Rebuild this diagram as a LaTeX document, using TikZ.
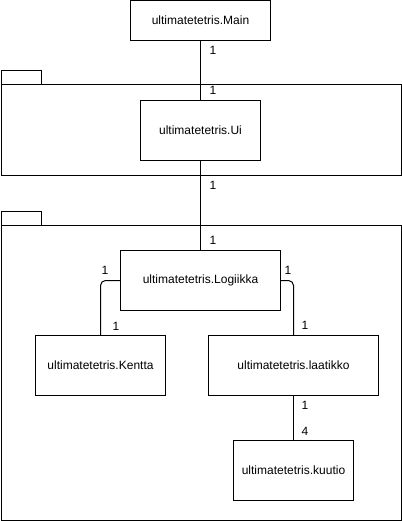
\documentclass[tikz,border=0pt]{standalone}
\usepackage{fontspec}
\setmainfont{Liberation Sans}
\begin{document}
\begin{tikzpicture}[x=1pt,y=-1pt,
  cls/.style={draw,line width=1pt,fill=white,inner sep=0pt,font=\fontsize{12}{14}\selectfont},
  pkg/.style={draw,line width=1pt,inner sep=0pt},
  conn/.style={line width=1pt},
  mult/.style={font=\fontsize{12}{14}\selectfont,inner sep=0pt}]
\useasboundingbox (0,0) rectangle (401,521);
% packages
\node[pkg,minimum width=40,minimum height=14,anchor=north west] (tab1) at (0.5,70.5) {};
\node[pkg,minimum width=400,minimum height=91,anchor=north west] (pkg1) at (0.5,84.5) {};
\node[pkg,minimum width=40,minimum height=14,anchor=north west] (tab2) at (0.5,210.5) {};
\node[pkg,minimum width=400,minimum height=295,anchor=north west] (pkg2) at (0.5,224.5) {};
% classes
\node[cls,minimum width=140,minimum height=40] (main) at (200.5,20.5) {ultimatetetris.Main};
\node[cls,minimum width=120,minimum height=60] (ui) at (200.5,130.5) {ultimatetetris.Ui};
\node[cls,minimum width=160,minimum height=60] (log) at (200.5,280.5) {ultimatetetris.Logiikka};
\node[cls,minimum width=130,minimum height=60] (ken) at (100.5,365.5) {ultimatetetris.Kentta};
\node[cls,minimum width=170,minimum height=60] (laa) at (293.5,365.5) {ultimatetetris.laatikko};
\node[cls,minimum width=120,minimum height=60] (kuu) at (293.5,470.5) {ultimatetetris.kuutio};
% connectors
\draw[conn] (main.south) -- (ui.north);
\draw[conn] (ui.south) -- (log.north);
\draw[conn,rounded corners=5] (log.west) -| (ken.north);
\draw[conn,rounded corners=5] (log.east) -| (laa.north);
\draw[conn] (laa.south) -- (kuu.north);
% multiplicities
\node[mult] (m1) at (213,50) {1};
\node[mult] (m2) at (213,90) {1};
\node[mult] (m3) at (213,185) {1};
\node[mult] (m4) at (213,240) {1};
\node[mult] (m5) at (105,270) {1};
\node[mult] (m6) at (116,326) {1};
\node[mult] (m7) at (288,270) {1};
\node[mult] (m8) at (305,325) {1};
\node[mult] (m9) at (305,405) {1};
\node[mult] (m10) at (305,431) {4};
\end{tikzpicture}
\end{document}
